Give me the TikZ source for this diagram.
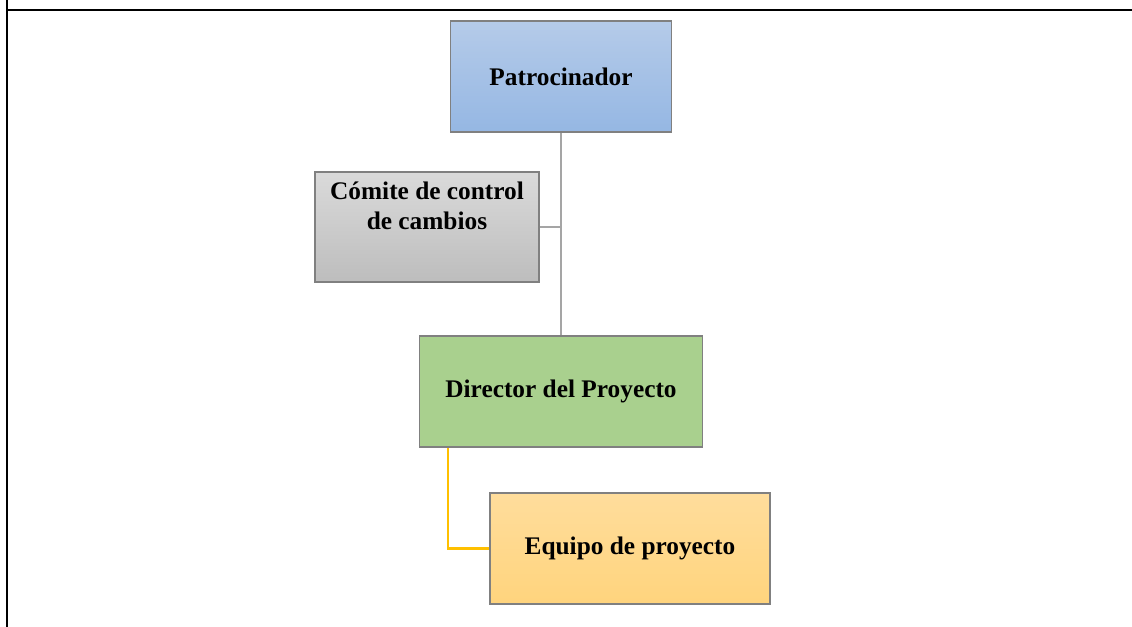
\documentclass[tikz,border=0pt]{standalone}
\usepackage{fontspec}
\setmainfont{Liberation Serif}
\usetikzlibrary{calc}
\definecolor{frame}{HTML}{000000}
\definecolor{boxline}{HTML}{808080}
\definecolor{conngray}{HTML}{A5A5A5}
\definecolor{connyellow}{HTML}{FFC000}
\definecolor{blueTop}{HTML}{B5CBE9}
\definecolor{blueBot}{HTML}{95B7E3}
\definecolor{grayTop}{HTML}{DADADA}
\definecolor{grayBot}{HTML}{BDBDBD}
\definecolor{greenFill}{HTML}{A9D08E}
\definecolor{orangeTop}{HTML}{FFDD9C}
\definecolor{orangeBot}{HTML}{FFD47D}
\tikzset{
  boxfont/.style={font=\fontsize{19}{23}\selectfont\bfseries},
  orgbox/.style={draw=boxline, line width=1.2pt, rectangle, inner sep=0pt,
    boxfont, align=center},
  grayconn/.style={draw=conngray, line width=1.8pt},
  yellowconn/.style={draw=connyellow, line width=1.8pt},
  frameline/.style={draw=frame, line width=1.9pt}
}
\begin{document}
\begin{tikzpicture}[x=0.75pt, y=-0.75pt]
\useasboundingbox (0,0) rectangle (1132,627);
\coordinate (ftop) at (7,0);
\coordinate (fbot) at (7,627);
\coordinate (fcorner) at (7,10);
\coordinate (fright) at (1132,10);
\draw[frameline] (ftop) -- (fbot);
\draw[frameline] (fcorner) -- (fright);

\node[orgbox, top color=blueTop, bottom color=blueBot,
  minimum width=221*0.75pt, minimum height=111*0.75pt] (patr) at (561,76.5) {Patrocinador};
\node[orgbox, top color=grayTop, bottom color=grayBot,
  minimum width=224*0.75pt, minimum height=110*0.75pt] (comite) at (427,227) {};
\node[anchor=north, boxfont, align=center, inner sep=0pt]
  (comitetext) at ($(comite.north)+(0,10)$) {Cómite de control\\de cambios};
\node[orgbox, fill=greenFill,
  minimum width=283*0.75pt, minimum height=111*0.75pt] (dir) at (561,391.5) {Director del Proyecto};
\node[orgbox, top color=orangeTop, bottom color=orangeBot,
  minimum width=280*0.75pt, minimum height=111*0.75pt] (equipo) at (630,548.5) {Equipo de proyecto};

\draw[grayconn] (patr.south) -- (dir.north);
\draw[grayconn] (comite.east) -- (comite.east -| patr.south);
\coordinate (ybranch) at ($(dir.south west)+(29,0)$);
\draw[yellowconn] (ybranch) |- (equipo.west);
\end{tikzpicture}
\end{document}
